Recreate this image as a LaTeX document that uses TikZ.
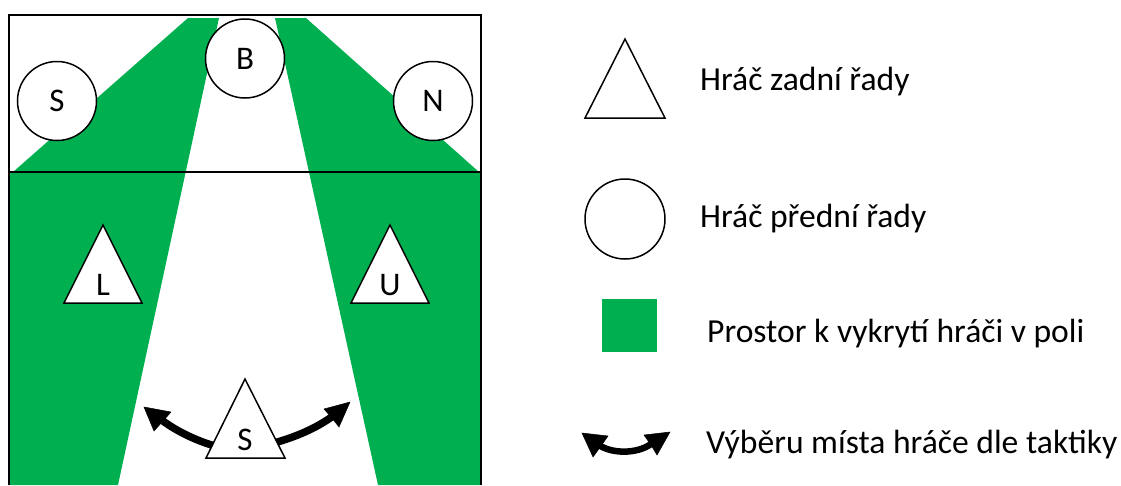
\documentclass[tikz,border=0pt]{standalone}
\usepackage{fontspec}
\setmainfont{Carlito}
\usetikzlibrary{arrows.meta}
\definecolor{zone}{HTML}{00B050}
\tikzset{
  zonefill/.style={fill=zone,draw=none},
  frameline/.style={draw=black,line width=1.8pt},
  player/.style={circle,draw=black,fill=white,line width=1.5pt,minimum size=#1,inner sep=0pt,font=\fontsize{33}{36}\selectfont},
  tri/.style={draw=black,fill=white,line width=1.5pt,line join=miter},
  letter/.style={inner sep=0pt,font=\fontsize{33}{36}\selectfont},
  legendtext/.style={inner sep=0pt,anchor=base west,font=\fontsize{33.6}{36}\selectfont},
  shaft/.style={draw=black,line width=#1},
  headfill/.style={fill=black,draw=black,line width=0.5pt,line join=miter}
}
\begin{document}
\begin{tikzpicture}[x=1pt,y=-1pt]
\useasboundingbox (0,0) rectangle (1121,485);
% green zones
\fill[zonefill] (188,18) -- (219,18) -- (118,485) -- (9,485) -- (9,172) -- (13,172) -- cycle;
\fill[zonefill] (275,18) -- (306,18) -- (479,172) -- (481,172) -- (481,485) -- (378,485) -- cycle;
% court
\draw[frameline] (9,485) -- (9,15) -- (481,15) -- (481,485);
\draw[frameline] (9,172) -- (481,172);
% front row
\node[player=79pt] (ps) at (57,101) {S};
\node[player=79pt] (pb) at (245,58.5) {B};
\node[player=79pt] (pn) at (433,101) {N};
% back row arrows
\coordinate (sl) at (218,447);
\coordinate (sla) at (163,421);
\coordinate (sr) at (274,443);
\coordinate (sra) at (333,416);
\draw[shaft=7.5pt] (sl) .. controls (197,441) and (178,432) .. (sla);
\draw[shaft=7.5pt] (sr) .. controls (295,437) and (315,429) .. (sra);
\filldraw[headfill] (144,407) -- (171,412) -- (163,421) -- (154,431) -- cycle;
\filldraw[headfill] (350,402) -- (324,409) -- (332,418) -- (339,427) -- cycle;
% back row
\draw[tri] (103,225) -- (142,303) -- (64,303) -- cycle;
\draw[tri] (390,225) -- (429,303) -- (351,303) -- cycle;
\draw[tri] (245,379) -- (285,458) -- (206,458) -- cycle;
\node[letter] (pl) at (103,285) {L};
\node[letter] (pu) at (390,285) {U};
\node[letter] (pz) at (245,439.5) {S};
% legend
\draw[tri] (625,39) -- (665,118) -- (585,118) -- cycle;
\node[legendtext] (t1) at (700,90) {Hráč zadní řady};
\node[player=80pt] (lc) at (625,219) {};
\node[legendtext] (t2) at (700,227) {Hráč přední řady};
\fill[zonefill] (602,299) rectangle (657,352);
\node[legendtext] (t3) at (707,342) {Prostor k vykrytí hráči v poli};
\coordinate (la) at (599,445);
\coordinate (lb) at (651,444);
\draw[shaft=6.5pt] (la) .. controls (612,454) and (637,454) .. (lb);
\filldraw[headfill] (582,433) -- (608,436) -- (601,446) -- (593,457) -- cycle;
\filldraw[headfill] (670,432) -- (644,435) -- (651,445) -- (657,455) -- cycle;
\node[legendtext] (t4) at (706,453) {Výběru místa hráče dle taktiky};
\end{tikzpicture}
\end{document}
